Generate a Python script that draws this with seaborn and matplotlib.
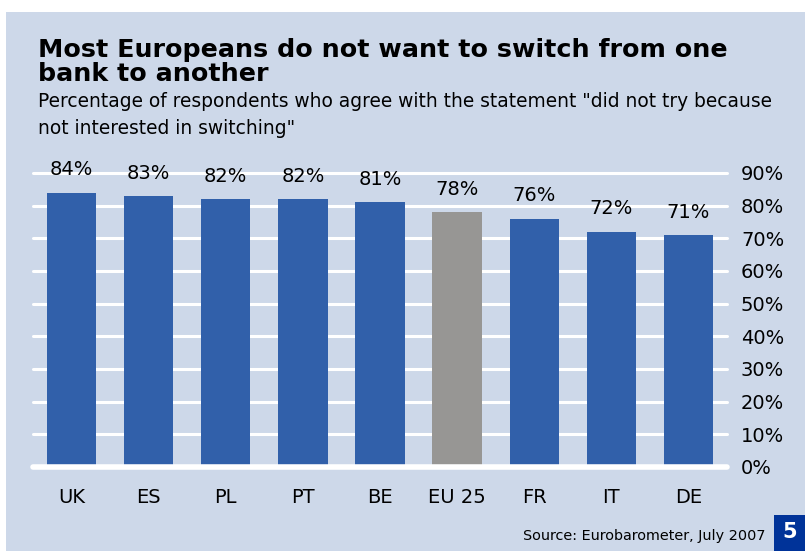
import matplotlib
matplotlib.use("Agg")
import matplotlib.pyplot as plt
import seaborn as sns
import pandas as pd
from matplotlib.patches import Rectangle

countries = ["UK", "ES", "PL", "PT", "BE", "EU 25", "FR", "IT", "DE"]
values = [84, 83, 82, 82, 81, 78, 76, 72, 71]
y_ticks = [0, 10, 20, 30, 40, 50, 60, 70, 80, 90]

BLUE = "#3160AA"
GREY = "#979694"
PANEL = "#CDD8E9"
colors = [GREY if c == "EU 25" else BLUE for c in countries]

df = pd.DataFrame({"country": countries, "value": values})

sns.set_theme(style="white")
plt.rcParams["font.family"] = ["DejaVu Sans"]

fig = plt.figure(figsize=(8.05, 5.51), dpi=100)
fig.patch.set_facecolor("white")
fig.patches.append(Rectangle((6 / 805, 0), 1, 1 - 12 / 551, transform=fig.transFigure,
                             facecolor=PANEL, edgecolor="none", zorder=-10))

ax = fig.add_axes([33 / 805, (551 - 467) / 551, 694 / 805, 294 / 551])
ax.set_facecolor("none")

sns.barplot(data=df, x="country", y="value", hue="country", palette=colors,
            legend=False, width=0.64, saturation=1, linewidth=0, ax=ax, zorder=3)

ax.set_xlim(-0.5, len(countries) - 0.5)
ax.set_ylim(0, 90)

# white gridlines, thicker baseline
for t in y_ticks[1:]:
    ax.axhline(t, color="white", lw=2.2, zorder=1, clip_on=False)
ax.axhline(0, color="white", lw=4, zorder=4, clip_on=False, solid_capstyle="round")

for s in ax.spines.values():
    s.set_visible(False)

ax.yaxis.tick_right()
ax.set_yticks(y_ticks)
ax.set_yticklabels([f"{t}%" for t in y_ticks])
ax.tick_params(axis="y", length=0, pad=10, labelsize=14, labelcolor="black")
ax.tick_params(axis="x", length=0, pad=15, labelsize=14, labelcolor="black")
ax.set_xlabel("")
ax.set_ylabel("")

for i, v in enumerate(values):
    ax.annotate(f"{v}%", (i, v), xytext=(0, 12.5), textcoords="offset points",
                ha="center", va="baseline", fontsize=14, color="black")

fig.text(38 / 805, 1 - 57 / 551, "Most Europeans do not want to switch from one",
         fontsize=18.3, fontweight="bold", color="black", va="baseline")
fig.text(38 / 805, 1 - 81 / 551, "bank to another",
         fontsize=18.3, fontweight="bold", color="black", va="baseline")
fig.text(38 / 805, 1 - 107 / 551,
         'Percentage of respondents who agree with the statement "did not try because',
         fontsize=13.4, color="black", va="baseline")
fig.text(38 / 805, 1 - 134 / 551, 'not interested in switching"',
         fontsize=13.4, color="black", va="baseline")

fig.text(765 / 805, 1 - 540 / 551, "Source: Eurobarometer, July 2007",
         fontsize=10.4, color="black", ha="right", va="baseline")

fig.patches.append(Rectangle((774 / 805, 0), 31 / 805, 36 / 551, transform=fig.transFigure,
                             facecolor="#003399", edgecolor="none", zorder=5))
fig.text(790 / 805, 19 / 551, "5", fontsize=15, fontweight="bold", color="white",
         ha="center", va="center", zorder=6)

fig.savefig("out.png", dpi=100, facecolor=fig.get_facecolor())
